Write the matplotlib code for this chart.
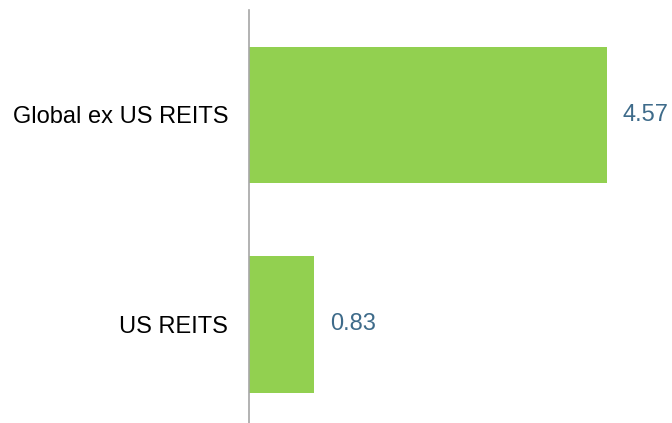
import matplotlib.pyplot as plt

plt.rcParams['font.family'] = ['Liberation Sans', 'DejaVu Sans']

categories = ['US REITS', 'Global ex US REITS']
values = [0.83, 4.57]

bar_color = '#92d050'
label_color = '#3e6b8a'

fig = plt.figure(figsize=(6.72, 4.23), dpi=100)
ax = fig.add_axes([249 / 672, 0, 1 - 249 / 672, 413 / 423])

pos = list(range(len(categories)))
ax.barh(pos, values, height=0.65, color=bar_color)

for y, v in zip(pos, values):
    ax.annotate(f'{v:.2f}', (v, y), xytext=(11.5, 0), textcoords='offset points',
                ha='left', va='center', fontsize=17, color=label_color)

ax.set_xlim(0, 5.40)
ax.set_ylim(-0.47, 1.50)
ax.set_yticks(pos)
ax.set_yticklabels(categories, fontsize=17)
ax.tick_params(axis='y', length=0, pad=15)
ax.set_xticks([])

for side in ['top', 'right', 'bottom']:
    ax.spines[side].set_visible(False)
ax.spines['left'].set_color('#a6a6a6')
ax.spines['left'].set_linewidth(1.2)

fig.savefig('out.png', dpi=100)
